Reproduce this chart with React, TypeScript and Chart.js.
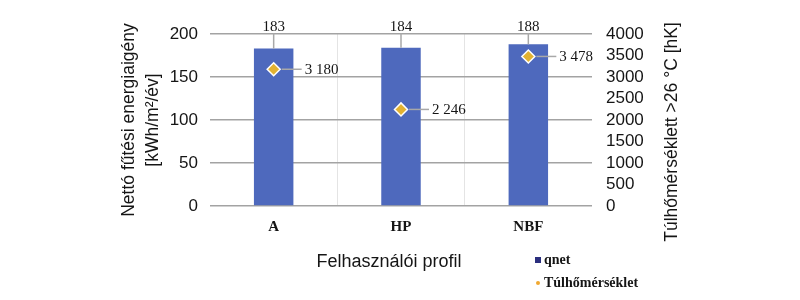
import React, { useEffect, useRef } from "react";
import { Chart, registerables } from "chart.js";

Chart.register(...registerables);

const categories = ["A", "HP", "NBF"];
const qnetValues = [183, 184, 188];
const overheatValues = [3180, 2246, 3478];
const leftTicksMax = 200;
const rightTicksMax = 4000;
const leftTitle = ["Nettó fűtési energiaigény", "[kWh/m²/év]"];
const rightTitle = "Túlhőmérséklett >26 °C [hK]";
const xTitle = "Felhasználói profil";
const legendLabels = ["qnet", "Túlhőmérséklet"];

const BAR_COLOR = "#4E69BD";
const POINT_COLOR = "#E2B232";
const TEXT = "#151515";
const LEADER = "#a8a8a8";

const fmt = (v: number) => String(v).replace(/\B(?=(\d{3})+(?!\d))/g, " ");

const overlayPlugin = {
  id: "overlay",
  afterDatasetsDraw(chart: any) {
    const ctx = chart.ctx as CanvasRenderingContext2D;
    const area = chart.chartArea;
    ctx.save();
    const barMeta = chart.getDatasetMeta(0);
    ctx.font = "15px 'Liberation Serif'";
    ctx.fillStyle = TEXT;
    ctx.textAlign = "center";
    ctx.textBaseline = "middle";
    barMeta.data.forEach((el: any, i: number) => {
      const ty = area.top - 7;
      ctx.strokeStyle = LEADER;
      ctx.lineWidth = 1.5;
      ctx.beginPath();
      ctx.moveTo(el.x, ty + 6);
      ctx.lineTo(el.x, el.y);
      ctx.stroke();
      ctx.fillText(String(qnetValues[i]), el.x, ty);
    });
    ctx.restore();
  },
  afterDraw(chart: any) {
    const ctx = chart.ctx as CanvasRenderingContext2D;
    ctx.save();
    const ptMeta = chart.getDatasetMeta(1);
    ctx.font = "15px 'Liberation Serif'";
    ctx.textAlign = "left";
    ctx.textBaseline = "middle";
    ptMeta.data.forEach((el: any, i: number) => {
      ctx.strokeStyle = LEADER;
      ctx.lineWidth = 1.5;
      ctx.beginPath();
      ctx.moveTo(el.x + 8, el.y);
      ctx.lineTo(el.x + 28, el.y);
      ctx.stroke();
      ctx.fillStyle = TEXT;
      ctx.fillText(fmt(overheatValues[i]), el.x + 31, el.y + 1);
    });

    ctx.fillStyle = TEXT;
    ctx.font = "17.5px 'Liberation Sans'";
    ctx.textAlign = "center";
    ctx.textBaseline = "middle";
    ctx.save();
    ctx.translate(129, 120);
    ctx.rotate(-Math.PI / 2);
    ctx.fillText(leftTitle[0], 0, 0);
    ctx.fillText(leftTitle[1], 0, 24);
    ctx.restore();

    ctx.save();
    ctx.translate(672, 132);
    ctx.rotate(-Math.PI / 2);
    ctx.fillText(rightTitle, 0, 0);
    ctx.restore();

    ctx.font = "18px 'Liberation Sans'";
    ctx.fillText(xTitle, 389, 262);

    ctx.fillStyle = "#2B2F7E";
    ctx.fillRect(535, 257, 6, 6);
    ctx.fillStyle = "#F0A830";
    ctx.beginPath();
    ctx.arc(538, 283, 2, 0, Math.PI * 2);
    ctx.fill();
    ctx.fillStyle = TEXT;
    ctx.font = "bold 14px 'Liberation Serif'";
    ctx.textAlign = "left";
    ctx.fillText(legendLabels[0], 544, 260);
    ctx.fillText(legendLabels[1], 544, 283);
    ctx.restore();
  },
};

export default function App() {
  const ref = useRef<HTMLCanvasElement>(null);
  useEffect(() => {
    if (!ref.current) return;
    const chart = new Chart(ref.current, {
      type: "bar",
      data: {
        labels: categories,
        datasets: [
          {
            type: "bar",
            label: legendLabels[0],
            data: qnetValues,
            backgroundColor: BAR_COLOR,
            yAxisID: "y",
            barPercentage: 0.31,
            categoryPercentage: 1,
            order: 1,
          },
          {
            type: "line",
            label: legendLabels[1],
            data: overheatValues,
            yAxisID: "y1",
            showLine: false,
            pointStyle: "rectRot",
            pointRadius: 6.5,
            pointBackgroundColor: POINT_COLOR,
            pointBorderColor: "#ffffff",
            pointBorderWidth: 1.5,
            order: 0,
          } as any,
        ],
      },
      options: {
        animation: false,
        responsive: false,
        devicePixelRatio: 1,
        layout: { padding: { top: 34, bottom: 0, left: 0, right: 0 } },
        plugins: {
          legend: { display: false },
          tooltip: { enabled: false },
        },
        scales: {
          x: {
            type: "category",
            offset: true,
            grid: {
              offset: true,
              drawTicks: false,
              lineWidth: 1,
              color: (c: any) =>
                c.type !== "tick" || c.index === 0 ? "rgba(0,0,0,0)" : "#e4e4e4",
            },
            border: { display: false },
            ticks: {
              font: { family: "'Liberation Serif'", size: 15, weight: "bold" },
              color: TEXT,
              padding: 12,
            },
            afterFit: (s: any) => {
              s.height = 94;
            },
          },
          y: {
            position: "left",
            min: 0,
            max: leftTicksMax,
            grid: { color: "#a3a3a3", lineWidth: 1.5, drawTicks: false },
            border: { display: false },
            ticks: {
              stepSize: 50,
              autoSkip: false,
              font: { family: "'Liberation Sans'", size: 17 },
              color: TEXT,
              padding: 12,
              callback: (v: any) => String(v),
            },
            afterFit: (s: any) => {
              s.width = 210;
            },
          },
          y1: {
            position: "right",
            min: 0,
            max: rightTicksMax,
            grid: { display: false, drawTicks: false },
            border: { display: false },
            ticks: {
              stepSize: 500,
              autoSkip: false,
              font: { family: "'Liberation Sans'", size: 17 },
              color: TEXT,
              padding: 14,
              callback: (v: any) => String(v),
            },
            afterFit: (s: any) => {
              s.width = 208;
            },
          },
        },
      } as any,
      plugins: [overlayPlugin],
    });
    return () => chart.destroy();
  }, []);
  return (
    <div style={{ position: "absolute", left: 0, top: 0, width: 800, height: 300, background: "#fff" }}>
      <canvas ref={ref} width={800} height={300} />
    </div>
  );
}
